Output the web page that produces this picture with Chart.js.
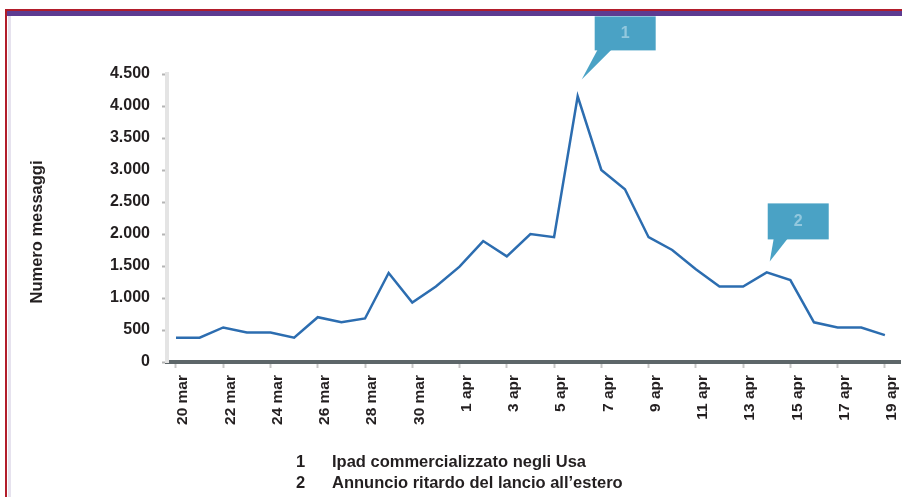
<!DOCTYPE html>
<html>
<head>
<meta charset="utf-8">
<script src="https://cdn.jsdelivr.net/npm/chart.js@4.4.1/dist/chart.umd.min.js"></script>
<style>
  html, body { margin: 0; padding: 0; background: #fff; }
  #wrap { width: 902px; height: 497px; }
</style>
</head>
<body>
<div id="wrap"><canvas id="chart" width="902" height="497"></canvas></div>
<script>
// daily message counts, 20 mar - 19 apr
const days = [
  '20 mar', '21 mar', '22 mar', '23 mar', '24 mar', '25 mar', '26 mar', '27 mar',
  '28 mar', '29 mar', '30 mar', '31 mar', '1 apr', '2 apr', '3 apr', '4 apr',
  '5 apr', '6 apr', '7 apr', '8 apr', '9 apr', '10 apr', '11 apr', '12 apr',
  '13 apr', '14 apr', '15 apr', '16 apr', '17 apr', '18 apr', '19 apr'
];
const messages = [
  380, 380, 540, 460, 460, 380, 700, 620,
  680, 1390, 930, 1180, 1490, 1890, 1650, 2000,
  1950, 4150, 3000, 2700, 1950, 1750, 1450, 1180,
  1180, 1400, 1280, 620, 540, 540, 420
];
const yTicks = [0, 500, 1000, 1500, 2000, 2500, 3000, 3500, 4000, 4500];
const noteNumbers = ['1', '2'];
const notes = ['Ipad commercializzato negli Usa', 'Annuncio ritardo del lancio all\u2019estero'];
const noteDays = [17, 25];

const FONT = "'Liberation Sans', Arial, Helvetica, sans-serif";
const INK = '#231f20';
const CALLOUT = '#4aa2c5';

// thousands with a dot, italian style
const fmt = function(v){
    if(v < 1000){
        return String(v);
    }
    return Math.floor(v / 1000) + '.' + String(v % 1000).padStart(3, '0');
};

// box placement for each callout, relative to the point it marks
const calloutBoxes = [
    { tipDx: 4, tipDy: -17, boxDx: 13, boxDy: -63, w: 61, h: 34, baseDx: 16, baseW: 14 },
    { tipDx: 3, tipDy: -11, boxDx: -2, boxDy: -58, w: 61, h: 36, baseDx: 4, baseW: 14 }
];

const drawCallout = function(ctx, px, py, box, label){
    let tx = px + box.tipDx;
    let ty = py + box.tipDy;
    let bx = tx + box.boxDx;
    let by = ty + box.boxDy;

    ctx.fillStyle = CALLOUT;
    ctx.fillRect(bx, by, box.w, box.h);

    ctx.beginPath();
    ctx.moveTo(tx + box.baseDx, by + box.h - 1);
    ctx.lineTo(tx + box.baseDx + box.baseW, by + box.h - 1);
    ctx.lineTo(tx, ty);
    ctx.closePath();
    ctx.fill();

    ctx.fillStyle = 'rgba(205, 232, 242, 0.55)';
    ctx.font = 'bold 16px ' + FONT;
    ctx.textAlign = 'center';
    ctx.textBaseline = 'middle';
    ctx.fillText(label, bx + box.w / 2, by + box.h / 2);
};

const decor = {
    id: 'decor',
    beforeDraw(chart){
        const ctx = chart.ctx;
        ctx.save();
        // frame: red rule, purple band, pale strip along the left
        ctx.fillStyle = '#b21d2b';
        ctx.fillRect(5, 9, 897, 2);
        ctx.fillRect(5, 9, 2, 488);
        ctx.fillStyle = '#5d3b91';
        ctx.fillRect(7, 11, 895, 5);
        ctx.fillStyle = '#e6e2ee';
        ctx.fillRect(8, 16, 3, 481);
        ctx.restore();
    },
    afterDraw(chart){
        const ctx = chart.ctx;
        const x = chart.scales.x;
        const y = chart.scales.y;
        ctx.save();

        noteDays.forEach((d, i) => {
            drawCallout(ctx, x.getPixelForValue(d), y.getPixelForValue(messages[d]), calloutBoxes[i], noteNumbers[i]);
        });

        // axis title
        ctx.fillStyle = INK;
        ctx.font = 'bold 16.5px ' + FONT;
        ctx.textAlign = 'center';
        ctx.textBaseline = 'middle';
        ctx.translate(37, 232);
        ctx.rotate(-Math.PI / 2);
        ctx.fillText('Numero messaggi', 0, 0);
        ctx.setTransform(1, 0, 0, 1, 0, 0);

        // notes under the chart
        ctx.font = 'bold 16.5px ' + FONT;
        ctx.textAlign = 'left';
        ctx.textBaseline = 'alphabetic';
        notes.forEach((n, i) => {
            let base = 467 + i * 21;
            ctx.fillText(noteNumbers[i], 296, base);
            ctx.fillText(n, 332, base);
        });
        ctx.restore();
    }
};

new Chart(document.getElementById('chart'), {
    type: 'line',
    data: {
        datasets: [{
            data: messages.map((v, i) => ({ x: i, y: v })),
            borderColor: '#2c6db0',
            borderWidth: 2.5,
            pointRadius: 0,
            tension: 0,
            fill: false
        }]
    },
    options: {
        responsive: false,
        animation: false,
        layout: { padding: { top: 74, right: 2, left: 0, bottom: 0 } },
        plugins: {
            legend: { display: false },
            tooltip: { enabled: false }
        },
        scales: {
            x: {
                type: 'linear',
                min: -0.38,
                max: 30.64,
                afterBuildTicks: s => {
                    s.ticks = days.map((d, i) => ({ value: i })).filter(t => t.value % 2 === 0);
                },
                afterFit: s => {
                    s.height = 135;
                    s.paddingLeft = 0;
                    s.paddingRight = 0;
                },
                grid: { drawOnChartArea: false, tickLength: 6, tickColor: '#c6c6c6', tickWidth: 2 },
                border: { color: '#5d6669', width: 4 },
                ticks: {
                    autoSkip: false,
                    minRotation: 90,
                    maxRotation: 90,
                    padding: 7,
                    labelOffset: 7,
                    color: INK,
                    font: { family: FONT, size: 15.5, weight: 'bold' },
                    callback: v => days[v]
                }
            },
            y: {
                min: 0,
                max: 4500,
                afterBuildTicks: s => {
                    s.ticks = yTicks.map(v => ({ value: v }));
                },
                afterFit: s => { s.width = 167; },
                grid: { drawOnChartArea: false, tickLength: 5, tickColor: '#b5b5b5', tickWidth: 2 },
                border: { color: '#e4e4e4', width: 4 },
                ticks: {
                    padding: 12,
                    color: INK,
                    font: { family: FONT, size: 16, weight: 'bold' },
                    callback: v => fmt(v)
                }
            }
        }
    },
    plugins: [decor]
});
</script>
</body>
</html>
